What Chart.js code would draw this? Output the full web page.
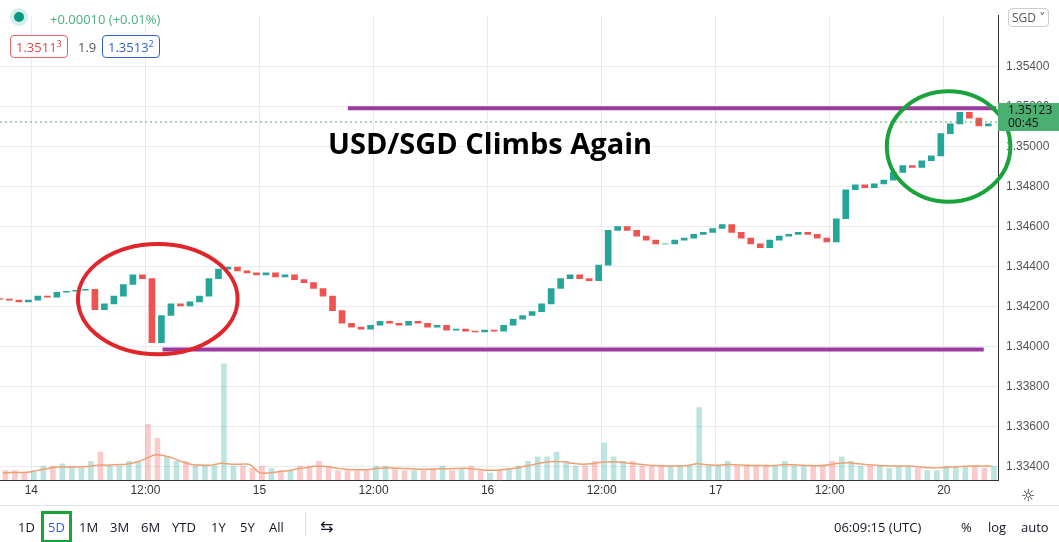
<!DOCTYPE html>
<html><head><meta charset="utf-8">
<script src="https://cdn.jsdelivr.net/npm/chart.js@4/dist/chart.umd.min.js"></script>
<style>
body{margin:0;width:1059px;height:542px;overflow:hidden;background:#fff;font-family:"Open Sans","DejaVu Sans",sans-serif;position:relative}
#c{position:absolute;left:0;top:0}
.ov{position:absolute;font-size:13px}
.box{position:absolute;border:1px solid;border-radius:4px;padding:1px 5px;font-size:13px;background:#fff}
#tb{position:absolute;left:0;top:505px;width:1059px;height:37px;border-top:1px solid #e0e3eb;font-size:13px;color:#131722}
#tb span{position:absolute;top:12px}
</style></head><body>
<canvas id="c" width="1059" height="542"></canvas>
<div class="ov" style="left:14px;top:8px"><span style="display:inline-block;width:10px;height:10px;border-radius:5px;background:#089981;box-shadow:0 0 0 4px #d6efeb"></span></div>
<div class="ov" style="left:50px;top:10px;color:#4caf80">+0.00010 (+0.01%)</div>
<div class="box" style="left:10px;top:35px;border-color:#e06666;color:#e04848">1.3511<sup style="font-size:9px">3</sup></div>
<div class="ov" style="left:78px;top:38px;color:#555">1.9</div>
<div class="box" style="left:102px;top:35px;border-color:#3060d0;color:#3060d0">1.3513<sup style="font-size:9px">2</sup></div>
<div class="ov" style="left:328px;top:123px;font-size:29px;font-weight:bold;color:#000;font-family:'Open Sans',sans-serif">USD/SGD Climbs Again</div>
<div class="ov" style="left:1008px;top:8px;border:1px solid #ccc;border-radius:4px;padding:0 3px;font-size:12px;color:#555;background:#fff">SGD ˅</div>
<div class="ov" style="left:998px;top:103px;width:61px;height:28px;background:#4caf72;color:#111;font-size:12px;line-height:13px;padding-left:10px;box-sizing:border-box">1.35123<br>00:45</div>
<div class="ov" style="left:1021px;top:484px;font-size:16px;color:#333">☼</div>
<div id="tb">
<span style="left:18px">1D</span>
<span style="left:41px;top:5px;border:3px solid #1aa33a;padding:4px 4px;color:#3060d0">5D</span>
<span style="left:79px">1M</span><span style="left:110px">3M</span><span style="left:141px">6M</span>
<span style="left:172px">YTD</span><span style="left:211px">1Y</span><span style="left:240px">5Y</span><span style="left:269px">All</span>
<span style="left:305px;top:6px;height:24px;border-left:1px solid #ddd"></span>
<span style="left:320px;top:9px;font-size:16px">⇆</span>
<span style="left:834px">06:09:15 (UTC)</span>
<span style="left:961px">%</span><span style="left:988px">log</span><span style="left:1021px">auto</span>
</div>
<script>
const closes=[1.34237,1.34232,1.34223,1.34232,1.34252,1.34247,1.34271,1.34276,1.34281,1.34286,
1.34184,1.34213,1.34252,1.34310,1.34358,1.34339,1.34019,1.34155,1.34213,1.34203,
1.34223,1.34252,1.34339,1.34387,1.34397,1.34378,1.34368,1.34358,1.34368,1.34348,
1.34358,1.34334,1.34319,1.34290,1.34252,1.34179,1.34116,1.34097,1.34087,1.34106,
1.34126,1.34116,1.34106,1.34126,1.34116,1.34097,1.34106,1.34082,1.34087,1.34077,
1.34073,1.34082,1.34077,1.34106,1.34136,1.34155,1.34174,1.34213,1.34290,1.34339,
1.34358,1.34339,1.34329,1.34407,1.34581,1.34600,1.34581,1.34552,1.34532,1.34513,
1.34513,1.34532,1.34542,1.34561,1.34571,1.34590,1.34610,1.34571,1.34542,1.34513,
1.34494,1.34532,1.34552,1.34561,1.34571,1.34561,1.34542,1.34523,1.34639,1.34784,
1.34808,1.34794,1.34813,1.34832,1.34871,1.34905,1.34895,1.34929,1.34953,1.35065,
1.35113,1.35171,1.35142,1.35103,1.35113];
const firstOpen=1.34240;
const volumes=[2,2,1.5,2,3,3,3.5,3,2.5,4,6,3,3,4,4,12,9,5,4,4,3,3,3,25,3,3,2.5,3,2.5,2,
2,3,3,4,3,2,2,2,2,3,3,2.5,2,2,2,2.5,3,2,2.5,3,2,1.5,2,2.5,3,4,5,5,6,4,
3,3,4,8,5,4,4,3,3,3,3,3,3,15.6,3,3,4,3,3,3,3,3,4,3,3,3,3,4,5,4,
3,3,3,2.5,3,3,2.5,2,2,3,3,3,3,2.5,3];
const volMA=[1.5,1.6,1.6,1.8,2.2,2.6,2.8,2.8,2.8,2.9,3.2,3.2,3.3,3.4,3.8,4.6,5.4,5.2,4.6,3.8,3.3,3.2,3.2,3.6,3.4,3.4,3.3,1.6,1.5,1.8,
2,2.4,2.7,3,2.9,2.6,2.3,2.2,2.2,2.4,2.6,2.6,2.5,2.4,2.3,2.3,2.4,2.4,2.5,2.5,2.3,2.1,2.1,2.3,2.6,3,3.4,3.8,4,3.9,
3.6,3.4,3.5,3.8,3.9,3.8,3.6,3.4,3.2,3.1,3,3,3.1,3.5,3.3,3.2,3.3,3.3,3.2,3.1,3.1,3.1,3.3,3.3,3.2,3.1,3.1,3.3,3.6,3.7,
3.5,3.3,3.2,3,3,3,2.9,2.7,2.6,2.7,2.8,2.9,3,3,3];
const xTickIdx=[3,15,27,39,51,63,75,87,99];
const xTickLabels=['14','12:00','15','12:00','16','12:00','17','12:00','20'];
const yTicks=[1.334,1.336,1.338,1.340,1.342,1.344,1.346,1.348,1.350,1.352,1.354];
const resistance=1.35191, support=1.33985;
const resistanceSpan=[36.3,104.5], supportSpan=[16.8,103.2];
const ellipses=[{x:16.3,y:1.34237,rx:8.4,ry:0.00276,c:'#e0262b'},{x:99.5,y:1.3500,rx:6.5,ry:0.00276,c:'#1aa33a'}];

const opens=closes.map((c,i)=>i?closes[i-1]:firstOpen);
const up=closes.map((c,i)=>c>=opens[i]);
const bodies=closes.map((c,i)=>({x:i,y:[opens[i],c===opens[i]?c+0.000005:c]}));
const vol=volumes.map((v,i)=>({x:i,y:v}));
const ma=volMA.map((v,i)=>({x:i,y:v}));

const ellPlugin={id:'ell',afterDatasetsDraw(ch){const c=ch.ctx,xs=ch.scales.x,ys=ch.scales.y;
 c.save();
 const cp=ys.getPixelForValue(1.35123);c.setLineDash([2,3]);c.strokeStyle='#4caf72';c.lineWidth=1;
 c.beginPath();c.moveTo(ch.chartArea.left,cp);c.lineTo(ch.chartArea.right,cp);c.stroke();c.setLineDash([]);
 ellipses.forEach(e=>{const cx=xs.getPixelForValue(e.x),cy=ys.getPixelForValue(e.y);
  const rx=xs.getPixelForValue(e.x+e.rx)-cx, ry=cy-ys.getPixelForValue(e.y+e.ry);
  c.strokeStyle=e.c;c.lineWidth=4;c.beginPath();c.ellipse(cx,cy,rx,ry,0,0,Math.PI*2);c.stroke();});
 c.restore();}};

new Chart(document.getElementById('c'),{
 data:{datasets:[
  {type:'bar',data:vol,yAxisID:'yv',backgroundColor:up.map(u=>u?'rgba(38,166,154,0.3)':'rgba(239,83,80,0.3)'),barThickness:5,order:5},
  {type:'line',data:ma,yAxisID:'yv',borderColor:'#f0a070',borderWidth:1.5,pointRadius:0,tension:0.3,order:4},
  {type:'bar',data:bodies,backgroundColor:up.map(u=>u?'#26a69a':'#ef5350'),barThickness:6,order:3},
  {type:'line',data:[{x:resistanceSpan[0],y:resistance},{x:resistanceSpan[1],y:resistance}],borderColor:'#9c3aa0',borderWidth:4,pointRadius:0,order:1},
  {type:'line',data:[{x:supportSpan[0],y:support},{x:supportSpan[1],y:support}],borderColor:'#9c3aa0',borderWidth:4,pointRadius:0,order:1}
 ]},
 options:{responsive:false,animation:false,layout:{padding:{bottom:37,top:0,left:0}},
  plugins:{legend:{display:false},tooltip:{enabled:false}},
  scales:{
   x:{type:'linear',offset:false,min:-0.3,max:104.7,
    afterBuildTicks:a=>{a.ticks=xTickIdx.map(v=>({value:v}));},
    afterFit:a=>{a.height=25;},
    ticks:{autoSkip:false,maxRotation:0,color:'#333',font:{size:12},callback:v=>xTickLabels[xTickIdx.indexOf(v)]},
    grid:{color:'#e6ecf2',drawTicks:false,offset:false},border:{color:'#333'}},
   y:{position:'right',min:1.33332,max:1.35657,
    afterBuildTicks:a=>{a.ticks=yTicks.map(v=>({value:v}));},
    afterFit:a=>{a.width=61;},
    ticks:{color:'#555',font:{size:12},padding:8,callback:v=>v.toFixed(5)},
    grid:{color:'#e6ecf2',drawTicks:false},border:{color:'#333'}},
   yv:{display:false,min:0,max:100}
  }},
 plugins:[ellPlugin]});
</script></body></html>
